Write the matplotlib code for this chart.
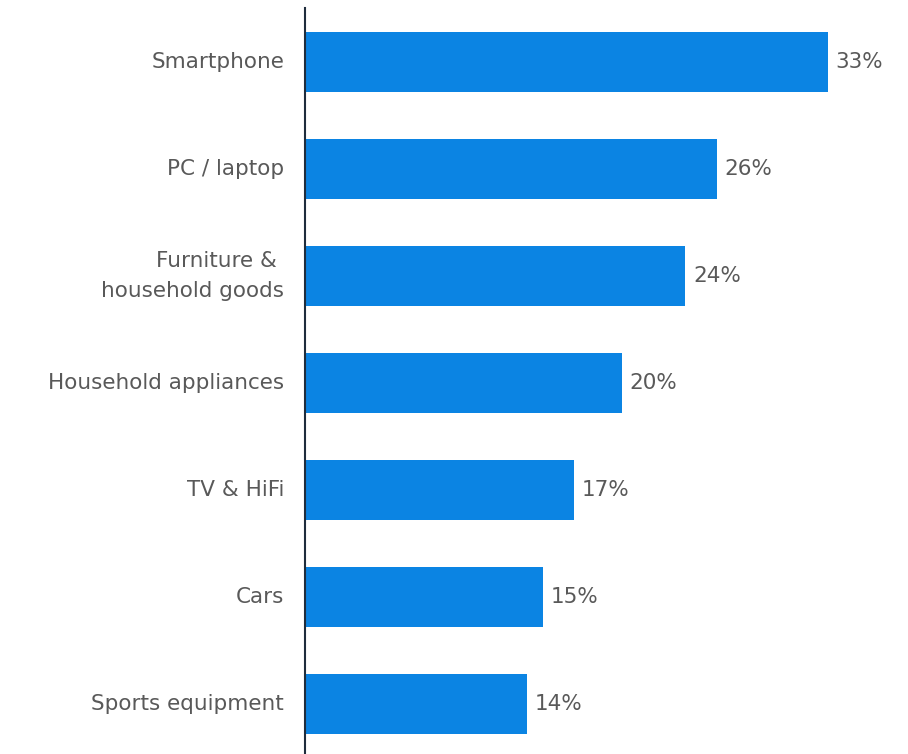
import matplotlib
matplotlib.use("Agg")
import matplotlib.pyplot as plt

categories = ["Smartphone", "PC / laptop", "Furniture & \nhousehold goods",
              "Household appliances", "TV & HiFi", "Cars", "Sports equipment"]
values = [33, 26, 24, 20, 17, 15, 14]
value_labels = ["33%", "26%", "24%", "20%", "17%", "15%", "14%"]

BAR_COLOR = "#0B84E3"
TEXT_COLOR = "#595959"
AXIS_COLOR = "#1F2D3D"

plt.rcParams["font.family"] = ["DejaVu Sans"]

fig = plt.figure(figsize=(9.08, 7.54), dpi=100)
W, H = 908, 754
left, right, top, bottom = 305, 908, 8, 754
ax = fig.add_axes([left / W, 1 - bottom / H, (right - left) / W, (bottom - top) / H])

pos = list(range(len(categories)))
ax.barh(pos, values, height=0.56, color=BAR_COLOR, zorder=2)

ax.set_xlim(0, 33 * (right - left) / (828 - left))
ax.set_ylim(6.467, -0.505)

ax.set_yticks(pos)
ax.set_yticklabels(categories, fontsize=15.5, color=TEXT_COLOR,
                   linespacing=1.6, ha="right", va="center")
ax.tick_params(axis="y", length=0, pad=15)
ax.set_xticks([])

for s in ["top", "right", "bottom"]:
    ax.spines[s].set_visible(False)
ax.spines["left"].set_color(AXIS_COLOR)
ax.spines["left"].set_linewidth(1.5)
ax.spines["left"].set_zorder(3)

for p, v, lab in zip(pos, values, value_labels):
    ax.annotate(lab, (v, p), xytext=(5.5, 0), textcoords="offset points",
                va="center", ha="left", fontsize=15.5, color=TEXT_COLOR)

fig.savefig("out.png", dpi=100, facecolor="white")
